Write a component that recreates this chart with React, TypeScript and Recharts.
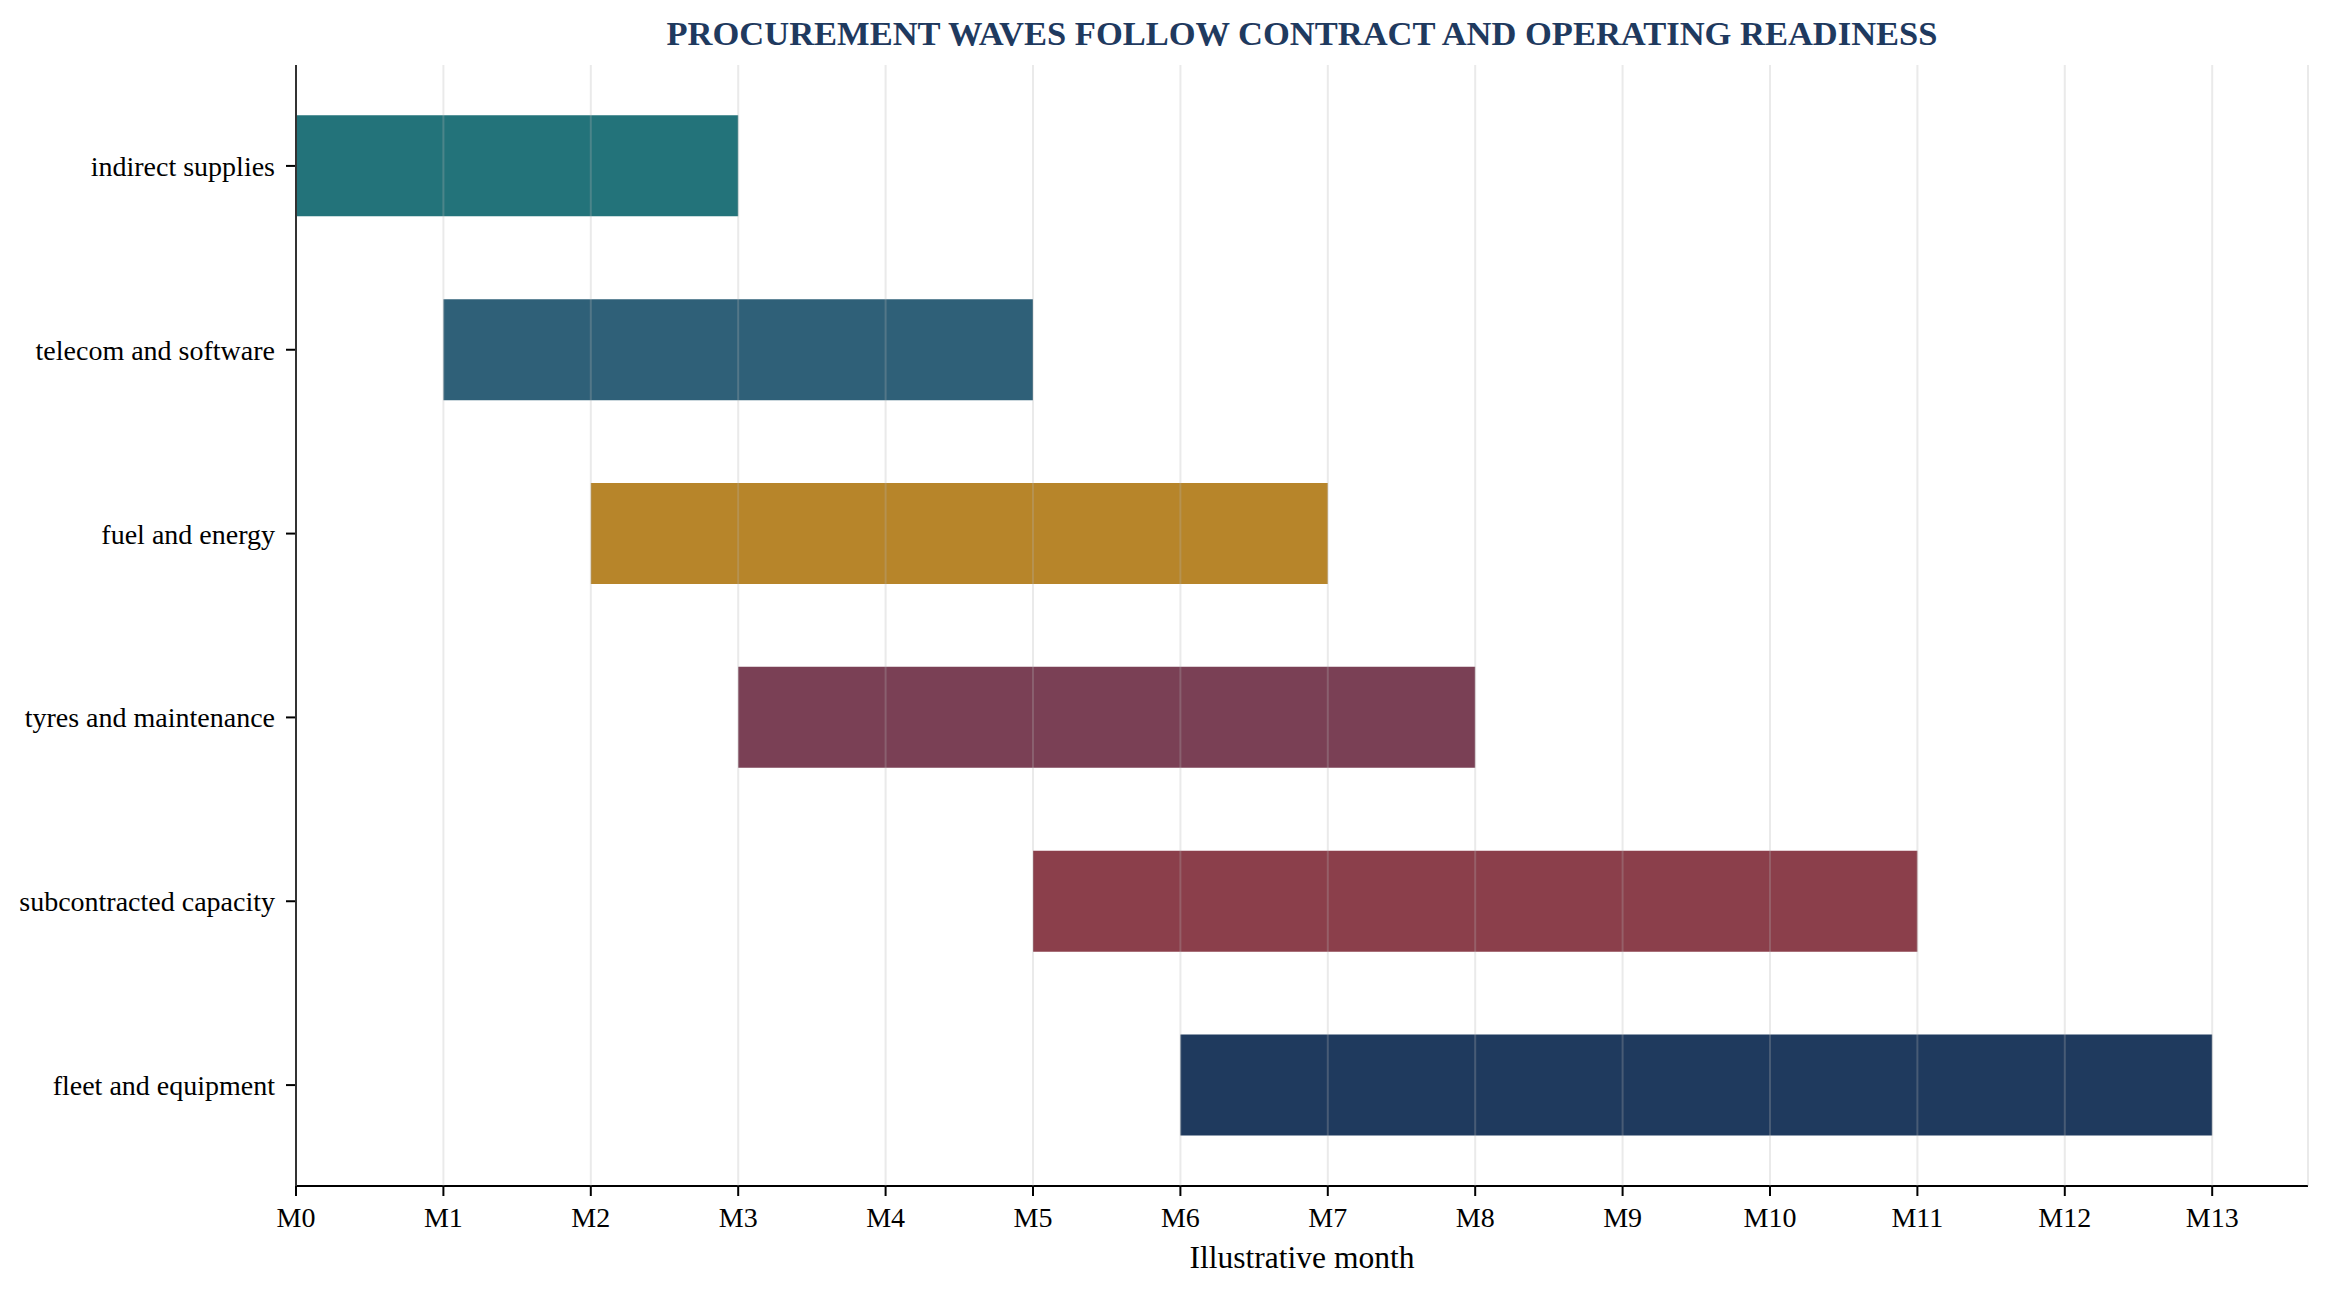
import React from "react";
import { BarChart, Bar, XAxis, YAxis, CartesianGrid, Cell, Label } from "recharts";

const categories = [
  "indirect supplies",
  "telecom and software",
  "fuel and energy",
  "tyres and maintenance",
  "subcontracted capacity",
  "fleet and equipment",
];
const startMonths = [0, 1, 2, 3, 5, 6];
const endMonths = [3, 5, 7, 8, 11, 13];
const barColors = ["#23737a", "#2f6078", "#b7852a", "#7a4055", "#8b3f4b", "#1f3a5e"];
const monthTicks = [0, 1, 2, 3, 4, 5, 6, 7, 8, 9, 10, 11, 12, 13];

const data = categories.map((name, i) => ({
  name,
  start: startMonths[i],
  duration: endMonths[i] - startMonths[i],
}));

const FONT = "'Liberation Serif', 'Times New Roman', serif";

export default function App() {
  return (
    <div style={{ position: "relative", width: 2332, height: 1297, background: "#fff" }}>
      <style>{"body{margin:0}"}</style>
      <div
        style={{
          position: "absolute",
          left: 296,
          width: 2012,
          top: 12,
          textAlign: "center",
          fontFamily: FONT,
          fontWeight: 700,
          fontSize: 34.5,
          lineHeight: "42px",
          color: "#1f3a5f",
        }}
      >
        PROCUREMENT WAVES FOLLOW CONTRACT AND OPERATING READINESS
      </div>
      <BarChart
        width={2332}
        height={1297}
        data={data}
        layout="vertical"
        margin={{ top: 65, right: 24, bottom: 0, left: 0 }}
        barCategoryGap="22.5%"
      >
        <XAxis
          type="number"
          domain={[0, 13.65]}
          ticks={monthTicks}
          allowDataOverflow
          tickFormatter={(v: number) => `M${v}`}
          height={111}
          tickSize={10}
          tickMargin={11}
          stroke="#000"
          strokeWidth={2}
          tick={{ fontSize: 28, fontFamily: FONT, fill: "#000" }}
        >
          <Label
            value="Illustrative month"
            position="insideBottom"
            offset={29}
            style={{ fontSize: 31.5, fontFamily: FONT, fill: "#000" }}
          />
        </XAxis>
        <YAxis
          type="category"
          dataKey="name"
          width={296}
          padding={{ top: 9, bottom: 9 }}
          tickSize={10}
          tickMargin={11}
          stroke="#000"
          strokeWidth={2}
          tick={{ fontSize: 28, fontFamily: FONT, fill: "#000" }}
        />
        <Bar dataKey="start" stackId="g" fill="transparent" isAnimationActive={false} />
        <Bar dataKey="duration" stackId="g" isAnimationActive={false}>
          {data.map((d, i) => (
            <Cell key={d.name} fill={barColors[i]} />
          ))}
        </Bar>
        <CartesianGrid
          horizontal={false}
          stroke="#b4b4b4"
          strokeOpacity={0.28}
          strokeWidth={2}
          zIndex={1000}
        />
      </BarChart>
    </div>
  );
}
